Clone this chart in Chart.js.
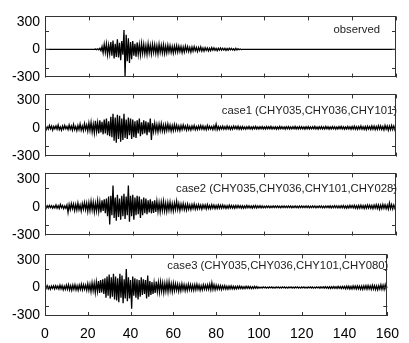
<!DOCTYPE html>
<html>
<head>
<meta charset="utf-8">
<script src="https://cdn.jsdelivr.net/npm/chart.js@4.4.1/dist/chart.umd.min.js"></script>
<style>
  html, body { margin: 0; padding: 0; background: #fff; }
  #wrap { position: relative; width: 409px; height: 343px; background: #fff; }
  .panel { position: absolute; left: 0; width: 409px; }
</style>
</head>
<body>
<div id="wrap">
  <div class="panel" style="top:3px;height:88px"><canvas id="p1"></canvas></div>
  <div class="panel" style="top:81px;height:89px"><canvas id="p2"></canvas></div>
  <div class="panel" style="top:160px;height:89px"><canvas id="p3"></canvas></div>
  <div class="panel" style="top:241px;height:102px"><canvas id="p4"></canvas></div>
</div>
<script>
// sample spacing (s) of the traces below, one row = 10 s
const dt = 0.5;
const xTicks = [0, 20, 40, 60, 80, 100, 120, 140, 160];
const yTickLabels = [-300, 0, 300];
const panelNames = ['observed', 'case1 (CHY035,CHY036,CHY101)', 'case2 (CHY035,CHY036,CHY101,CHY028)', 'case3 (CHY035,CHY036,CHY101,CHY080)'];

const observed = [
  0,0,0,0,0,0,0,0,0,0, 0,0,0,0,0,0,0,0,0,0,
  0,0,0,0,0,0,0,0,0,0, 0,0,0,0,0,0,0,0,0,0,
  0,0,0,0,0,0,3,-4,5,-6, 10,-15,30,-40,55,-35,60,-60,45,-50,
  80,-70,95,-100,60,-85,110,-90,70,-120, 90,-60,210,-300,160,-130,120,-150,80,-110,
  90,-70,60,-80,75,-55,50,-60,65,-45, 55,-50,40,-55,60,-40,45,-50,55,-35,
  50,-45,40,-50,55,-35,45,-40,50,-45, 35,-40,45,-30,40,-35,30,-40,35,-30,
  40,-30,35,-25,30,-35,25,-30,35,-20, 30,-25,20,-30,25,-20,30,-15,20,-25,
  20,-15,25,-20,15,-20,18,-12,15,-18, 12,-15,18,-10,15,-12,10,-15,12,-10,
  15,-10,12,-8,10,-12,8,-10,12,-6, 10,-8,6,-10,12,-8,6,-5,4,-3,
  0,0,0,0,0,0,0,0,0,0, 0,0,0,0,0,0,0,0,0,0,
  0,0,0,0,0,0,0,0,0,0, 0,0,0,0,0,0,0,0,0,0,
  0,0,0,0,0,0,0,0,0,0, 0,0,0,0,0,0,0,0,0,0,
  0,0,0,0,0,0,0,0,0,0, 0,0,0,0,0,0,0,0,0,0,
  0,0,0,0,0,0,0,0,0,0, 0,0,0,0,0,0,0,0,0,0,
  0,0,0,0,0,0,0,0,0,0, 0,0,0,0,0,0,0,0,0,0,
  0,0,0,0,0,0,0,0,0,0, 0,0,0,0,0,0,0,0,0,0,
  0
];

const case1 = [
  15,-20,10,-15,25,-10,20,-25,15,-10, 20,-15,30,-20,10,-25,20,-15,25,-10,
  15,-20,30,-15,20,-25,35,-20,15,-30, 25,-20,40,-25,20,-30,45,-20,30,-35,
  50,-30,60,-45,40,-55,75,-40,55,-60, 80,-50,65,-70,90,-60,100,-80,70,-90,
  120,-100,150,-140,110,-160,140,-120,130,-150, 100,-130,150,-110,90,-120,110,-80,100,-120,
  90,-100,70,-110,80,-60,100,-90,60,-70, 80,-60,70,-80,60,-50,100,-130,50,-40,
  50,-40,35,-45,40,-30,45,-35,30,-40, 35,-30,40,-25,30,-35,25,-30,35,-25,
  30,-25,20,-30,25,-20,30,-15,20,-25, 25,-20,15,-25,20,-15,25,-20,15,-20,
  20,-15,25,-15,20,-18,15,-20,25,-15, 18,-12,15,-20,20,-15,40,-20,15,-18,
  15,-12,18,-15,12,-15,20,-12,15,-18, 12,-15,18,-10,15,-12,18,-15,12,-15,
  15,-12,10,-15,12,-10,15,-12,10,-14, 12,-10,15,-12,10,-13,12,-10,14,-12,
  10,-12,14,-10,12,-10,15,-12,10,-12, 12,-14,10,-12,15,-10,12,-12,10,-14,
  12,-10,14,-12,10,-12,12,-10,15,-12, 10,-12,14,-10,12,-12,10,-14,12,-10,
  14,-12,10,-12,12,-10,15,-12,10,-14, 12,-10,14,-12,10,-12,15,-10,12,-14,
  10,-12,14,-10,12,-15,10,-12,14,-10, 15,-12,12,-14,10,-12,15,-12,12,-15,
  15,-12,18,-15,12,-18,15,-12,20,-15, 12,-18,15,-20,18,-12,15,-18,20,-15,
  18,-20,15,-18,22,-15,20,-18,15,-22, 25,-15,20,-25,18,-20,25,-18,20,-22,
  15
];

const case2 = [
  10,-15,12,-10,15,-8,12,-15,10,-12, 20,-15,12,-18,25,-10,15,-20,10,-15,
  20,-60,25,-30,35,-20,30,-40,25,-35, 40,-30,20,-45,35,-25,45,-30,40,-50,
  45,-40,60,-35,50,-55,40,-45,65,-50, 55,-60,70,-45,80,-70,90,-100,110,-190,
  120,-90,230,-120,100,-150,130,-110,90,-140, 120,-100,140,-130,110,-90,230,-160,120,-100,
  130,-140,100,-90,120,-80,110,-120,80,-90, 100,-70,90,-80,70,-60,80,-70,60,-65,
  70,-55,60,-50,45,-55,50,-40,60,-45, 40,-50,45,-35,50,-40,35,-45,40,-30,
  60,-30,35,-40,30,-25,35,-30,25,-35, 30,-25,20,-30,25,-20,30,-25,20,-22,
  25,-20,18,-25,22,-15,20,-22,25,-18, 15,-20,22,-15,18,-20,15,-18,20,-15,
  18,-15,20,-12,15,-18,12,-15,18,-12, 15,-14,12,-16,14,-12,15,-10,12,-14,
  12,-14,10,-12,15,-10,12,-12,10,-14, 12,-10,14,-12,10,-10,12,-12,10,-10,
  8,-10,10,-8,9,-10,8,-9,10,-8, 9,-8,10,-9,8,-10,9,-8,10,-9,
  8,-9,10,-8,9,-10,8,-8,10,-9, 8,-10,9,-8,10,-9,8,-9,10,-8,
  9,-10,8,-9,10,-8,9,-10,8,-9, 10,-8,9,-10,8,-10,9,-8,10,-9,
  10,-12,9,-10,12,-10,11,-12,10,-12, 12,-10,14,-12,10,-14,12,-12,15,-10,
  14,-12,16,-15,12,-18,15,-14,18,-15, 14,-18,16,-15,20,-14,18,-16,15,-20,
  18,-15,22,-18,20,-25,18,-20,25,-15, 22,-20,18,-25,40,-20,25,-22,20,-18,
  15
];

const case3 = [
  15,-10,20,-15,12,-20,15,-10,18,-15, 20,-12,15,-18,25,-15,20,-25,15,-20,
  25,-20,30,-25,20,-30,25,-20,30,-25, 20,-30,25,-20,35,-25,30,-20,25,-30,
  40,-30,35,-45,50,-35,45,-55,60,-40, 70,-60,80,-55,90,-70,100,-110,120,-90,
  140,-120,110,-100,150,-130,120,-140,100,-160, 150,-110,130,-170,90,-120,200,-150,110,-120,
  80,-230,120,-90,100,-110,90,-130,80,-100, 110,-80,90,-70,80,-120,130,-100,70,-80,
  60,-70,50,-60,65,-45,55,-50,60,-40, 50,-55,45,-40,55,-45,60,-35,40,-45,
  45,-35,40,-30,35,-40,30,-35,40,-25, 30,-35,25,-30,35,-25,30,-28,25,-30,
  30,-25,35,-20,25,-30,20,-25,30,-20, 25,-22,28,-20,35,-25,50,-20,30,-25,
  25,-20,22,-18,20,-22,18,-15,20,-18, 15,-18,16,-14,18,-15,14,-16,12,-15,
  14,-12,15,-10,12,-14,10,-12,14,-10, 12,-10,10,-12,9,-10,12,-8,10,-9,
  6,-7,5,-6,7,-5,6,-7,5,-6, 7,-5,6,-6,5,-7,6,-5,7,-6,
  5,-6,7,-5,6,-6,5,-7,6,-5, 7,-6,5,-6,6,-5,7,-6,5,-7,
  6,-5,7,-6,5,-7,6,-5,7,-6, 6,-7,5,-6,7,-5,6,-7,8,-6,
  8,-7,9,-8,7,-9,8,-10,9,-8, 10,-9,8,-10,12,-9,10,-12,11,-10,
  12,-14,15,-12,14,-16,12,-15,18,-14, 15,-16,18,-14,16,-18,15,-20,18,-16,
  20,-18,22,-16,18,-20,25,-18,20,-22, 18,-25,20,-18,30,-20,25,-22,30,-20,
  15
];

const traces = [observed, case1, case2, case3];

// frame box with inward tick marks (matlab style) + panel caption
const framePlugin = {
  id: 'frame',
  afterDatasetsDraw(chart, args, opts) {
    const { ctx, chartArea: a, scales } = chart;
    ctx.save();
    ctx.strokeStyle = '#333';
    ctx.lineWidth = 1;
    ctx.strokeRect(Math.round(a.left) + 0.5, Math.round(a.top) + 0.5,
      Math.round(a.right - a.left) - 1, Math.round(a.bottom - a.top) - 1);
    ctx.beginPath();
    xTicks.forEach(v => {
      const px = Math.round(scales.x.getPixelForValue(v)) + 0.5;
      ctx.moveTo(px, a.top); ctx.lineTo(px, a.top + 4);
      ctx.moveTo(px, a.bottom); ctx.lineTo(px, a.bottom - 4);
    });
    [-200, 0, 200].forEach(v => {
      const py = Math.round(scales.y.getPixelForValue(v)) + 0.5;
      ctx.moveTo(a.left, py); ctx.lineTo(a.left + 4, py);
      ctx.moveTo(a.right, py); ctx.lineTo(a.right - 4, py);
    });
    ctx.stroke();
    ctx.fillStyle = '#222';
    ctx.font = '11.3px "Liberation Sans", Arial, sans-serif';
    ctx.textAlign = 'right';
    ctx.textBaseline = 'middle';
    ctx.fillText(opts.text, a.right - opts.dx, a.top + opts.dy);
    ctx.restore();
  }
};

const captionPos = [{ dx: 16, dy: 13 }, { dx: -1, dy: 16 }, { dx: -1, dy: 15 }, { dx: -1, dy: 11 }];

traces.forEach((vals, k) => {
  const last = k === traces.length - 1;
  new Chart(document.getElementById('p' + (k + 1)), {
    type: 'line',
    data: {
      datasets: [{
        data: vals.map((v, i) => ({ x: i * dt, y: v })),
        borderColor: '#000',
        borderWidth: 1.3,
        pointRadius: 0,
        tension: 0,
        fill: false
      }]
    },
    options: {
      responsive: true,
      maintainAspectRatio: false,
      animation: false,
      events: [],
      layout: { padding: { top: 10, bottom: last ? 0 : 10, left: 0, right: 13 } },
      plugins: {
        legend: { display: false },
        tooltip: { enabled: false },
        frame: { text: panelNames[k], dx: captionPos[k].dx, dy: captionPos[k].dy }
      },
      scales: {
        x: {
          type: 'linear',
          min: 0, max: 160,
          display: last,
          grid: { display: false, drawTicks: false },
          border: { display: false },
          afterBuildTicks: s => { s.ticks = xTicks.map(v => ({ value: v })); },
          afterFit: s => { if (last) s.height = 27; },
          ticks: {
            padding: 10,
            color: '#000',
            font: { family: '"Liberation Sans", Arial, sans-serif', size: 14 }
          }
        },
        y: {
          min: -310, max: 360,
          grid: { display: false, drawTicks: false },
          border: { display: false },
          afterBuildTicks: s => { s.ticks = yTickLabels.map(v => ({ value: v })); },
          afterFit: s => { s.width = 45; },
          ticks: {
            padding: 5,
            autoSkip: false,
            color: '#000',
            font: { family: '"Liberation Sans", Arial, sans-serif', size: 14 }
          }
        }
      }
    },
    plugins: [framePlugin]
  });
});
</script>
</body>
</html>
